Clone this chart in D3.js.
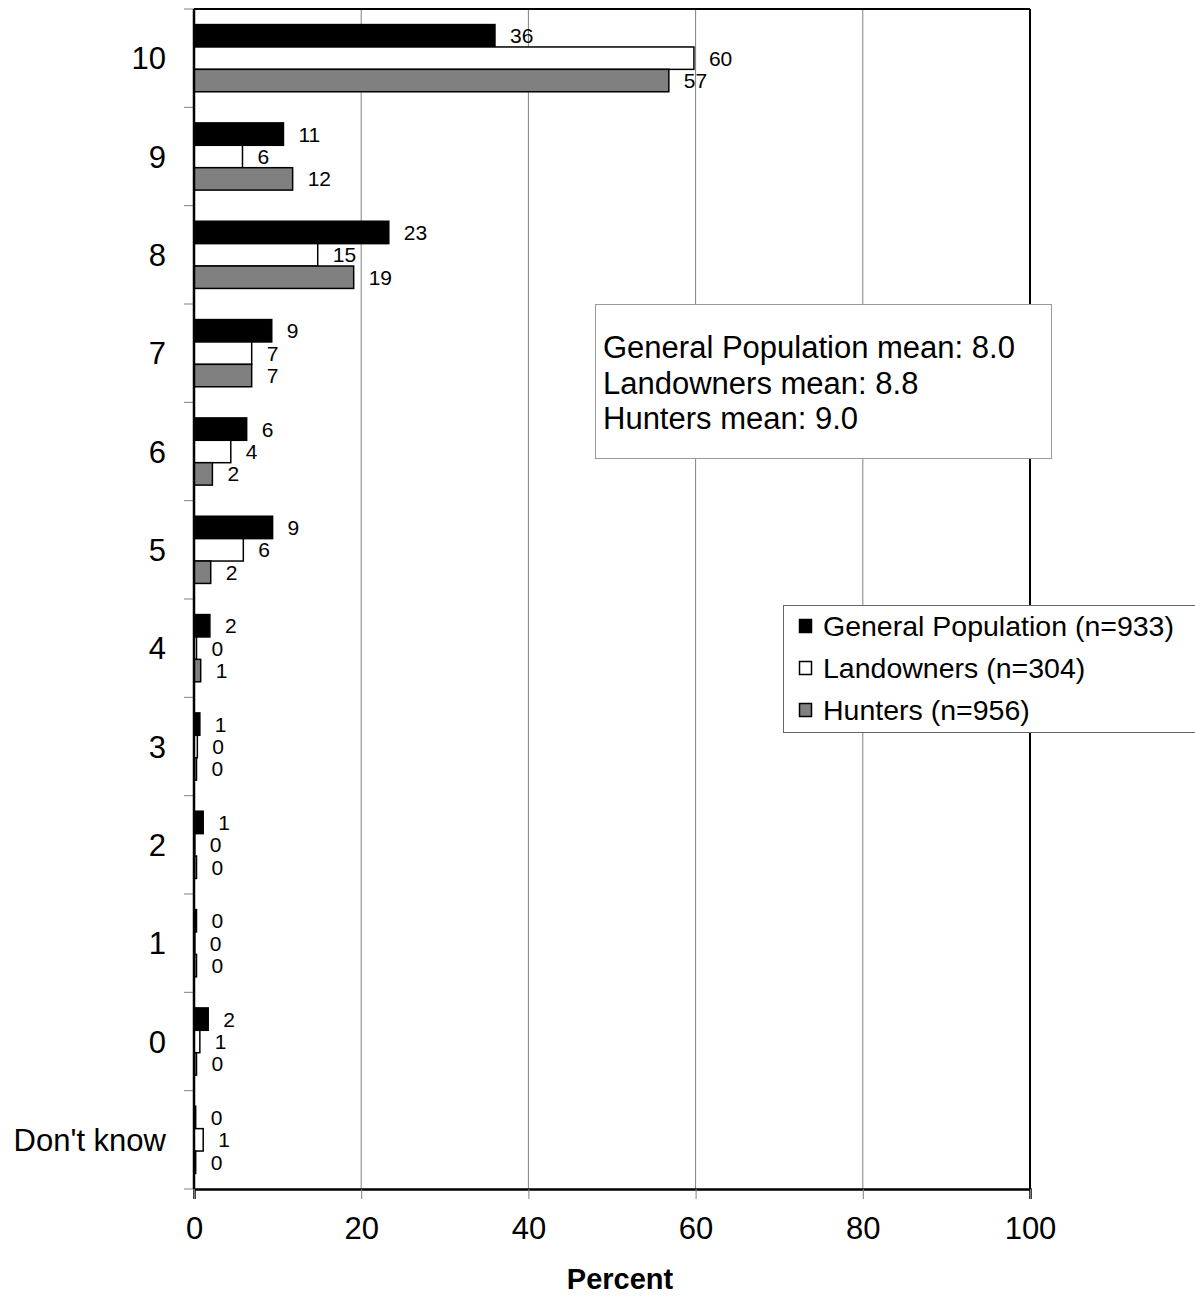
<!DOCTYPE html>
<html>
<head>
<meta charset="utf-8">
<script src="https://cdn.jsdelivr.net/npm/d3@7"></script>
<style>
  body { margin: 0; background: #fff; }
  svg { display: block; font-family: "Liberation Sans", Arial, Helvetica, sans-serif; }
</style>
</head>
<body>
<script>
const categories = ["10", "9", "8", "7", "6", "5", "4", "3", "2", "1", "0", "Don't know"];
const seriesNames = ["General Population (n=933)", "Landowners (n=304)", "Hunters (n=956)"];
const generalPop = [36.0, 10.7, 23.3, 9.3, 6.3, 9.4, 1.9, 0.7, 1.1, 0.3, 1.7, 0.2];
const landowners = [59.8, 5.8, 14.8, 6.9, 4.4, 5.9, 0.3, 0.4, 0.1, 0.1, 0.7, 1.1];
const hunters    = [56.8, 11.8, 19.1, 6.9, 2.2, 2.0, 0.8, 0.3, 0.3, 0.3, 0.3, 0.2];
const labelsGP = ["36", "11", "23", "9", "6", "9", "2", "1", "1", "0", "2", "0"];
const labelsLO = ["60", "6", "15", "7", "4", "6", "0", "0", "0", "0", "1", "1"];
const labelsHU = ["57", "12", "19", "7", "2", "2", "1", "0", "0", "0", "0", "0"];
const xTicks = [0, 20, 40, 60, 80, 100];
const meanLines = ["General Population mean: 8.0", "Landowners mean: 8.8", "Hunters mean: 9.0"];
const xTitle = "Percent";

(function () {
const fills = ["#000000", "#ffffff", "#808080"];
const W = 1195, H = 1296;
const pLeft = 194, pRight = 1030, pTop = 9, pBottom = 1189;

const svg = d3.select("body").append("svg").attr("width", W).attr("height", H);

const x = d3.scaleLinear().domain([0, 100]).range([pLeft, pRight]);
const y = d3.scaleBand().domain(categories).range([pTop, pBottom]).padding(0);
const yInner = d3.scaleBand().domain(d3.range(3)).range([0, y.bandwidth()]).paddingInner(0).paddingOuter(0.695);

// grid lines
svg.append("g").selectAll("line").data(xTicks.filter(d => d > 0 && d < 100)).join("line")
  .attr("x1", d => x(d)).attr("x2", d => x(d)).attr("y1", pTop).attr("y2", pBottom)
  .attr("stroke", "#808080").attr("stroke-width", 1);

const data = categories.map((c, i) => ({
  cat: c,
  vals: [generalPop[i], landowners[i], hunters[i]],
  labs: [labelsGP[i], labelsLO[i], labelsHU[i]]
}));

const groups = svg.append("g").selectAll("g").data(data).join("g")
  .attr("transform", d => `translate(0,${y(d.cat)})`);

groups.selectAll("rect").data(d => d.vals.map((v, s) => ({ v, s }))).join("rect")
  .attr("x", x(0))
  .attr("y", d => yInner(d.s))
  .attr("width", d => x(d.v) - x(0))
  .attr("height", yInner.bandwidth())
  .attr("fill", d => fills[d.s])
  .attr("stroke", "#000").attr("stroke-width", 1.5);

groups.selectAll("text").data(d => d.vals.map((v, s) => ({ v, s, lab: d.labs[s] }))).join("text")
  .attr("x", d => x(d.v) + 15)
  .attr("y", d => yInner(d.s) + yInner.bandwidth() / 2)
  .attr("dy", "0.36em")
  .attr("font-size", 21)
  .attr("fill", "#000")
  .text(d => d.lab);

// frame (top and right)
svg.append("line").attr("x1", pLeft).attr("x2", pRight).attr("y1", pTop).attr("y2", pTop)
  .attr("stroke", "#000").attr("stroke-width", 2);
svg.append("line").attr("x1", pRight).attr("x2", pRight).attr("y1", pTop).attr("y2", pBottom)
  .attr("stroke", "#000").attr("stroke-width", 2);

// x axis
const xAxis = d3.axisBottom(x).tickValues(xTicks).tickSize(10).tickPadding(18).tickFormat(d3.format("d"));
const gx = svg.append("g").attr("transform", `translate(0,${pBottom})`).call(xAxis);
gx.select(".domain").attr("stroke", "#000").attr("stroke-width", 2.5);
gx.selectAll(".tick line").attr("stroke", "#808080").attr("stroke-width", 1);
gx.selectAll(".tick text").attr("font-size", 31).attr("font-family", "Liberation Sans, Arial, sans-serif").attr("fill", "#000");

// y axis: ticks at row boundaries
const boundaries = categories.map(c => y(c)).concat([pBottom]);
svg.append("g").selectAll("line").data(boundaries).join("line")
  .attr("x1", pLeft - 10).attr("x2", pLeft).attr("y1", d => d).attr("y2", d => d)
  .attr("stroke", "#808080").attr("stroke-width", 1);
svg.append("line").attr("x1", pLeft).attr("x2", pLeft).attr("y1", pTop).attr("y2", pBottom)
  .attr("stroke", "#000").attr("stroke-width", 2.5);
svg.append("g").selectAll("text").data(categories).join("text")
  .attr("x", 166)
  .attr("y", d => y(d) + y.bandwidth() / 2)
  .attr("dy", "0.36em")
  .attr("text-anchor", "end")
  .attr("font-size", 31)
  .attr("fill", "#000")
  .text(d => d);

// x title
svg.append("text").attr("x", 620).attr("y", 1289)
  .attr("text-anchor", "middle").attr("font-size", 29).attr("font-weight", "bold")
  .text(xTitle);

// mean box
svg.append("rect").attr("x", 595.5).attr("y", 304.5).attr("width", 456).attr("height", 154)
  .attr("fill", "#fff").attr("stroke", "#999").attr("stroke-width", 1);
svg.append("g").selectAll("text").data(meanLines).join("text")
  .attr("x", 603).attr("y", (d, i) => 347 + i * 35.5).attr("dy", "0.36em")
  .attr("font-size", 31).attr("fill", "#000")
  .text(d => d);

// legend
svg.append("rect").attr("x", 783.5).attr("y", 605.5).attr("width", 420).attr("height", 127)
  .attr("fill", "#fff").attr("stroke", "#666").attr("stroke-width", 1);
const leg = svg.append("g").selectAll("g").data(seriesNames).join("g")
  .attr("transform", (d, i) => `translate(799,${626 + i * 42})`);
leg.append("rect").attr("x", 0.5).attr("y", -6.5).attr("width", 12).attr("height", 13)
  .attr("fill", (d, i) => fills[i]).attr("stroke", "#000").attr("stroke-width", 1.5);
leg.append("text").attr("x", 24).attr("dy", "0.36em").attr("font-size", 28.5).attr("fill", "#000")
  .text(d => d);
})();
</script>
</body>
</html>
